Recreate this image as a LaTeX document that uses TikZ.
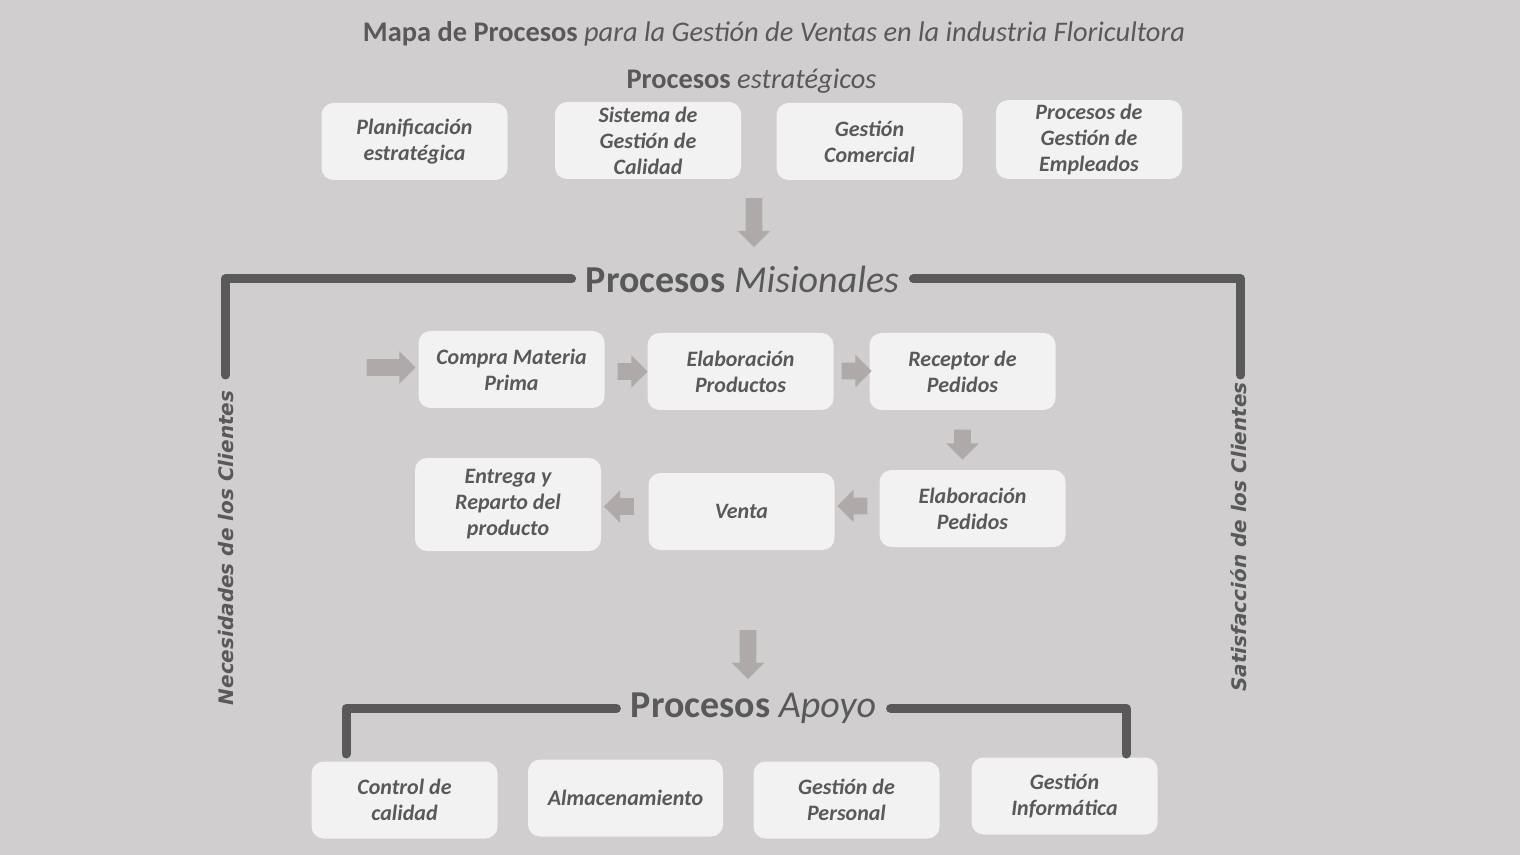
\documentclass[tikz,border=0pt]{standalone}
\usepackage{fontspec}
\setmainfont{Carlito}
\newfontfamily\ladofont{DejaVu Sans}
\usetikzlibrary{shapes.arrows}
\definecolor{fondo}{HTML}{D0CECE}
\definecolor{caja}{HTML}{F2F2F2}
\definecolor{texto}{HTML}{595959}
\definecolor{linea}{HTML}{595959}
\definecolor{flechagris}{HTML}{AEAAAA}
\begin{document}
\begin{tikzpicture}[x=0.5pt, y=-0.5pt,
    proc/.style = {fill=caja, rounded corners=6pt, minimum width=93pt, minimum height=38.5pt,
      align=center, text=texto, inner sep=2pt, font=\bfseries\itshape\fontsize{11}{13}\selectfont},
    flecha/.style = {single arrow, fill=flechagris, inner xsep=0pt, inner ysep=4pt,
      single arrow head extend=4pt, minimum height=15pt},
    corchete/.style = {draw=linea, line width=4.5pt, line cap=round, line join=round},
    titulo/.style = {text=texto, inner xsep=7pt},
    lado/.style = {text=texto, rotate=90, font=\ladofont\bfseries\itshape\fontsize{10}{12}\selectfont}]

	\useasboundingbox (0,0) rectangle (1520,855);
	\fill[fondo] (0,0) rectangle (1520,855);

	% titulos
	\node[titulo, font=\fontsize{14.2}{16}\selectfont] (mapa) at (774,33.5) {\textbf{Mapa de Procesos} \textit{para la Gestión de Ventas en la industria Floricultora}};
	\node[titulo, font=\fontsize{14.2}{16}\selectfont] (estrat) at (751.5,81.5) {\textbf{Procesos} \textit{estratégicos}};
	\node[titulo, font=\fontsize{19}{21}\selectfont] (misional) at (742.5,279) {\textbf{Procesos} \textit{Misionales}};
	\node[titulo, font=\fontsize{19}{21}\selectfont] (apoyo) at (753.5,708.5) {\textbf{Procesos} \textit{Apoyo}};

	% procesos estrategicos
	\node[proc] (plan) at (414.5,141.5) {Planificación\\estratégica};
	\node[proc] (sgc) at (648,140.5) {Sistema de\\Gestión de\\Calidad};
	\node[proc] (comercial) at (869.5,141.5) {Gestión\\Comercial};
	\node[proc] (empleados) at (1089,139.5) {Procesos de\\Gestión de\\Empleados};

	% procesos misionales
	\node[proc] (compra) at (511.5,369.5) {Compra Materia\\Prima};
	\node[proc] (elabprod) at (740.5,371.5) {Elaboración\\Productos};
	\node[proc] (receptor) at (962.5,371.5) {Receptor de\\Pedidos};
	\node[proc] (elabped) at (972.5,508.5) {Elaboración\\Pedidos};
	\node[proc] (venta) at (741.5,511.5) {Venta};
	\node[proc, minimum height=46.5pt] (entrega) at (508,504.5) {Entrega y\\Reparto del\\producto};

	% procesos de apoyo
	\node[proc] (control) at (404.5,800) {Control de\\calidad};
	\node[proc, minimum width=97.5pt] (almacen) at (625.5,798) {Almacenamiento};
	\node[proc] (personal) at (846.5,800) {Gestión de\\Personal};
	\node[proc] (informatica) at (1064.5,796) {Gestión\\Informática};

	% flechas
	\node[flecha, minimum height=24.5pt, rotate=-90] (f-estrat) at (754,218.5) {};
	\node[flecha, minimum height=24.5pt] (f-entrada) at (387,367.5) {};
	\node[flecha] (f-compra) at (628.5,371.5) {};
	\node[flecha] (f-elab) at (852.5,371) {};
	\node[flecha, rotate=-90] (f-receptor) at (962.5,440.5) {};
	\node[flecha, rotate=180] (f-elabped) at (856.5,506) {};
	\node[flecha, rotate=180] (f-venta) at (623,506.5) {};
	\node[flecha, minimum height=24.5pt, rotate=-90] (f-apoyo) at (748,650.5) {};

	% corchetes
	\coordinate (mis-izq) at (225.5,375);
	\coordinate (mis-der) at (1240.5,375);
	\coordinate (apo-izq) at (346,754);
	\coordinate (apo-der) at (1126,754);
	\draw[corchete] (mis-izq) |- (misional.west);
	\draw[corchete] (mis-der) |- (misional.east);
	\draw[corchete] (apo-izq) |- (apoyo.west);
	\draw[corchete] (apo-der) |- (apoyo.east);

	% clientes
	\node[lado] (necesidades) at (226,548) {Necesidades de los Clientes};
	\node[lado] (satisfaccion) at (1239,537) {Satisfacción de los Clientes};
\end{tikzpicture}
\end{document}
